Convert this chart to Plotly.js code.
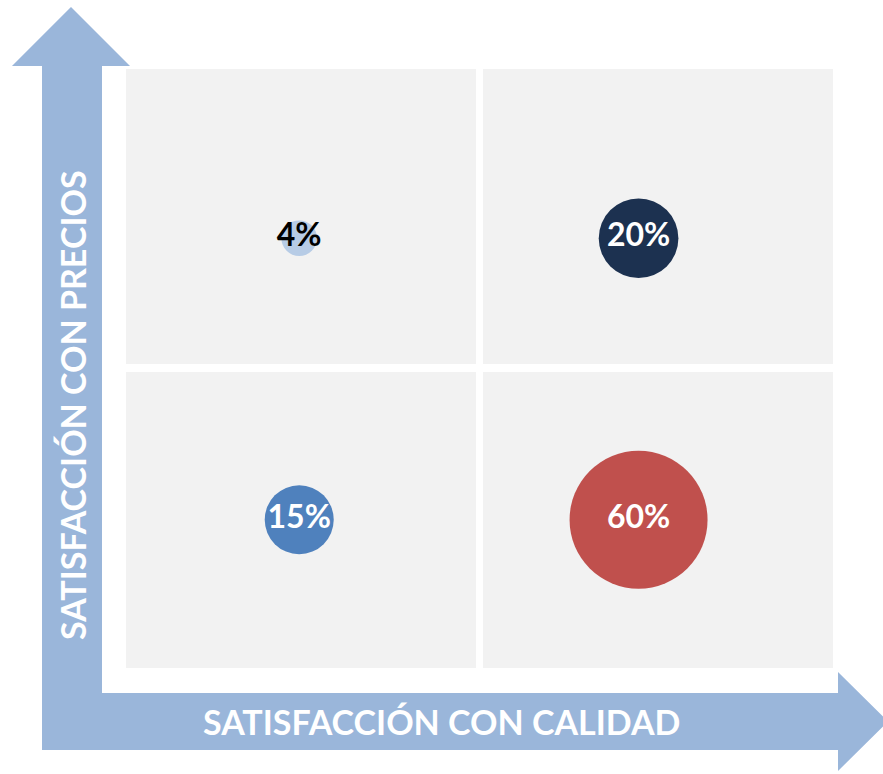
<!DOCTYPE html>
<html>
<head>
<meta charset="utf-8">
<script src="https://cdn.plot.ly/plotly-3.0.1.min.js"></script>
<style>
  html, body { margin: 0; padding: 0; background: #ffffff; }
  #chart { width: 883px; height: 774px; }
</style>
</head>
<body>
<div id="chart"></div>
<script>
const W = 883;
const H = 774;

// bubbles: position on the two satisfaction axes (0-2 grid) and share of respondents
const segmentos = ["Baja calidad / alto precio", "Alta calidad / alto precio", "Baja calidad / bajo precio", "Alta calidad / bajo precio"];
const calidad = [0.49, 1.45, 0.49, 1.45];
const precios = [1.435, 1.435, 0.495, 0.495];
const porcentajes = [4, 20, 15, 60];
const etiquetas = ["4%", "20%", "15%", "60%"];
const colores = ["#b7cce6", "#1c3150", "#4f81bd", "#c0504d"];
const coloresTexto = ["#000000", "#ffffff", "#ffffff", "#ffffff"];

const tituloX = "SATISFACCIÓN CON CALIDAD";
const tituloY = "SATISFACCIÓN CON PRECIOS";

// quadrant cells in axis units
const cuadrantesX = [[0, 0.99], [1.01, 2]];
const cuadrantesY = [[0, 0.988], [1.015, 2]];

const ARROW = "#9ab6da";
const FONT = "Lato, 'DejaVu Sans', sans-serif";

const px = (x) => x / W;
const py = (y) => 1 - y / H;

function arrowPath(points) {
  return points
    .map(([x, y], i) => `${i ? "L" : "M"} ${px(x).toFixed(5)},${py(y).toFixed(5)}`)
    .join(" ") + " Z";
}

const shapes = [];

// L-shaped double arrow behind the grid
shapes.push({
  type: "path",
  xref: "paper",
  yref: "paper",
  layer: "below",
  path: arrowPath([
    [42, 750], [42, 66], [12, 66], [71, 7], [130, 66], [102, 66],
    [102, 693], [838, 693], [838, 672], [888, 721.5], [838, 771], [838, 750],
  ]),
  fillcolor: ARROW,
  line: { width: 0 },
});

for (const [x0, x1] of cuadrantesX) {
  for (const [y0, y1] of cuadrantesY) {
    shapes.push({
      type: "rect",
      xref: "x",
      yref: "y",
      layer: "below",
      x0, x1, y0, y1,
      fillcolor: "#f2f2f2",
      line: { width: 0 },
    });
  }
}

const maxPct = Math.max(...porcentajes);
const maxDiameter = 138;

Plotly.newPlot(
  "chart",
  [
    {
      type: "scatter",
      mode: "markers+text",
      x: calidad,
      y: precios,
      text: etiquetas,
      customdata: segmentos,
      textposition: "middle center",
      textfont: { family: FONT, size: 32, color: coloresTexto, weight: "bold" },
      marker: {
        size: porcentajes,
        sizemode: "area",
        sizeref: (2 * maxPct) / (maxDiameter * maxDiameter),
        color: colores,
        line: { width: 0 },
        opacity: 1,
      },
      hovertemplate: "%{customdata}<br>%{text}<extra></extra>",
      cliponaxis: false,
    },
  ],
  {
    width: W,
    height: H,
    margin: { l: 0, r: 0, t: 0, b: 0 },
    paper_bgcolor: "#ffffff",
    plot_bgcolor: "rgba(0,0,0,0)",
    showlegend: false,
    xaxis: {
      domain: [126 / W, 833 / W],
      range: [0, 2],
      visible: false,
      fixedrange: true,
    },
    yaxis: {
      domain: [py(668), py(69)],
      range: [0, 2],
      visible: false,
      fixedrange: true,
    },
    shapes,
    annotations: [
      {
        xref: "paper",
        yref: "paper",
        x: px(442),
        y: py(721),
        text: tituloX,
        showarrow: false,
        font: { family: FONT, size: 34, color: "#ffffff", weight: "bold" },
        xanchor: "center",
        yanchor: "middle",
      },
      {
        xref: "paper",
        yref: "paper",
        x: px(72),
        y: py(405),
        text: tituloY,
        textangle: -90,
        showarrow: false,
        font: { family: FONT, size: 34, color: "#ffffff", weight: "bold" },
        xanchor: "center",
        yanchor: "middle",
      },
    ],
  },
  { displayModeBar: false, staticPlot: true }
);
</script>
</body>
</html>
